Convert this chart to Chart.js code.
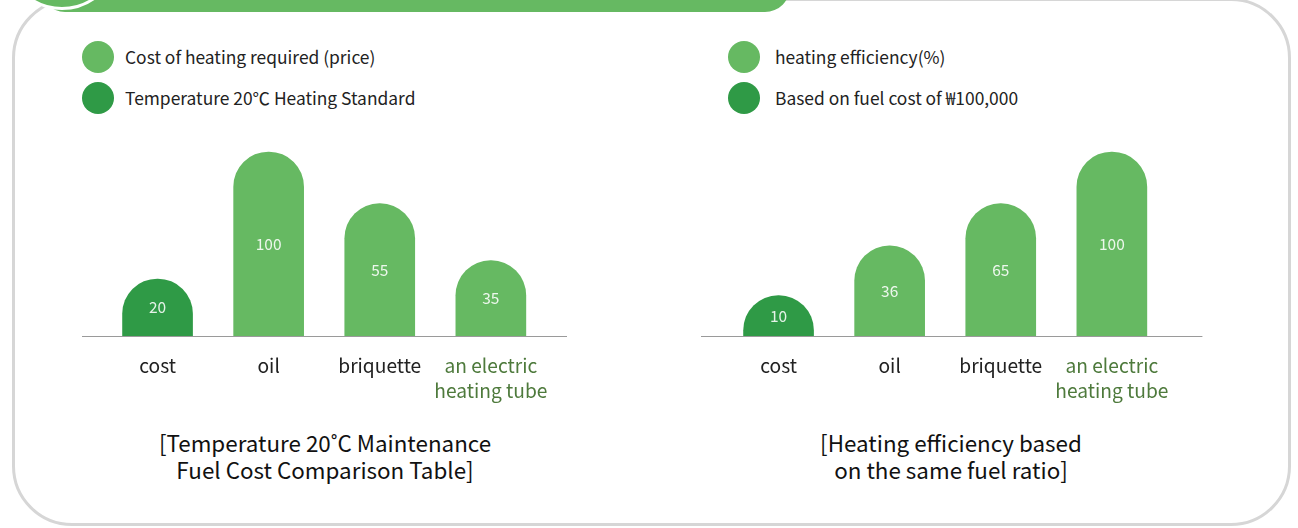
<!DOCTYPE html>
<html>
<head>
<meta charset="utf-8">
<script src="https://cdn.jsdelivr.net/npm/chart.js@4/dist/chart.umd.min.js"></script>
<style>
  html, body { margin: 0; padding: 0; background: #fff; }
  body { width: 1298px; height: 528px; position: relative; overflow: hidden; font-family: "Noto Sans CJK KR", "Noto Sans", sans-serif; }
  .frame { position: absolute; left: 12px; top: -2px; width: 1279px; height: 528px; border: 3px solid #d6d6d6; border-radius: 60px; box-sizing: border-box; }
  .pill { position: absolute; left: 40px; top: -38px; width: 750px; height: 50px; border-radius: 25px; background: #66b962; }
  .dot { position: absolute; left: 5px; top: -104px; width: 108px; height: 108px; border-radius: 50%; background: #66b962; border: 3px solid #fff; }
  .legend { position: absolute; font-size: 17.4px; color: #222; }
  .legend .item { position: absolute; white-space: nowrap; height: 32px; line-height: 32px; }
  .legend .sw { position: absolute; left: 0; top: 0; width: 32px; height: 32px; border-radius: 50%; }
  .legend .tx { position: absolute; top: 0; }
  .title { position: absolute; width: 500px; text-align: center; font-size: 22.4px; line-height: 27px; color: #111; }
  canvas { position: absolute; }
</style>
</head>
<body>
<div class="frame"></div>
<div class="pill"></div>
<div class="dot"></div>

<div class="legend" id="legL" style="left:82px; top:41px;"></div>
<div class="legend" id="legR" style="left:728px; top:41px;"></div>

<div class="title" style="left:75px; top:429px;">[Temperature 20˚C Maintenance<br>Fuel Cost Comparison Table]</div>
<div class="title" style="left:701px; top:429px;">[Heating efficiency based<br>on the same fuel ratio]</div>

<div style="position:absolute; left:62px; top:130px; width:525px; height:290px;"><canvas id="c1" width="525" height="290"></canvas></div>
<div style="position:absolute; left:680px; top:130px; width:540px; height:290px;"><canvas id="c2" width="540" height="290"></canvas></div>

<script>
// ---- data ----
const categories = ["cost", "oil", "briquette", ["an electric", "heating tube"]];

// Chart 1: Temperature 20°C maintenance fuel cost comparison
const costBarHeights = [31, 100, 72, 41];      // visual bar heights (tallest = 100)
const costValueLabels = ["20", "100", "55", "35"];
const costLegend = ["Cost of heating required (price)", "Temperature 20\u2103 Heating Standard"];

// Chart 2: Heating efficiency based on the same fuel ratio
const effBarHeights = [22, 49, 72, 100];
const effValueLabels = ["10", "36", "65", "100"];
const effLegend = ["heating efficiency(%)", "Based on fuel cost of \u20a9100,000"];

const LIGHT = "#66b962";
const DARK = "#2f9a46";
const barColors = [DARK, LIGHT, LIGHT, LIGHT];

// ---- legends (HTML) ----
function buildLegend(id, texts, textLeft) {
  const el = document.getElementById(id);
  const cols = [LIGHT, DARK];
  texts.forEach((t, i) => {
    const it = document.createElement("div");
    it.className = "item";
    it.style.top = (i * 41) + "px";
    it.innerHTML = '<div class="sw" style="background:' + cols[i] + '"></div><div class="tx" style="left:' + textLeft + 'px"></div>';
    it.querySelector(".tx").textContent = t;
    el.appendChild(it);
  });
}
buildLegend("legL", costLegend, 43);
buildLegend("legR", effLegend, 47);

// ---- plugins ----
const axisLinePlugin = {
  id: "axisLine",
  beforeDatasetsDraw(chart, args, opts) {
    const { ctx, chartArea, scales } = chart;
    const y = Math.round(scales.y.getPixelForValue(0)) + 0.5;
    ctx.save();
    ctx.strokeStyle = "#9a9a9a";
    ctx.lineWidth = 1.2;
    ctx.beginPath();
    ctx.moveTo(chartArea.left - opts.extLeft, y);
    ctx.lineTo(chartArea.right + opts.extRight, y);
    ctx.stroke();
    ctx.restore();
  }
};
const valueLabelPlugin = {
  id: "valueLabels",
  afterDatasetsDraw(chart, args, opts) {
    const { ctx, scales } = chart;
    const y0 = scales.y.getPixelForValue(0);
    const meta = chart.getDatasetMeta(0);
    ctx.save();
    ctx.font = "15.5px 'Noto Sans CJK KR', 'Noto Sans', sans-serif";
    ctx.fillStyle = "rgba(255,255,255,0.88)";
    ctx.textAlign = "center";
    ctx.textBaseline = "middle";
    meta.data.forEach((bar, i) => {
      ctx.fillText(opts.labels[i], bar.x, (bar.y + y0) / 2);
    });
    ctx.restore();
  }
};

function makeChart(id, heights, labels, pad, ext) {
  return new Chart(document.getElementById(id), {
    type: "bar",
    data: {
      labels: categories,
      datasets: [{
        data: heights,
        backgroundColor: barColors,
        borderWidth: 0,
        borderRadius: 35,
        borderSkipped: "start",
        barThickness: 70,
        base: -60,
        clip: { left: false, top: 4, right: false, bottom: 0 }
      }]
    },
    options: {
      responsive: false,
      animation: false,
      layout: { padding: pad },
      plugins: {
        legend: { display: false },
        tooltip: { enabled: false },
        axisLine: { extLeft: ext[0], extRight: ext[1] },
        valueLabels: { labels: labels }
      },
      scales: {
        x: {
          offset: true,
          grid: { display: false, drawTicks: false, tickLength: 0 },
          border: { display: false },
          ticks: {
            padding: 17,
            maxRotation: 0,
            autoSkip: false,
            font: { family: "'Noto Sans CJK KR', 'Noto Sans', sans-serif", size: 19.2, lineHeight: 1.3 },
            color: (c) => c.index === 3 ? "#4e7a3c" : "#222"
          }
        },
        y: {
          display: false,
          min: 0,
          max: 100
        }
      }
    },
    plugins: [axisLinePlugin, valueLabelPlugin]
  });
}

makeChart("c1", costBarHeights, costValueLabels, { top: 22, left: 40, right: 40.6, bottom: 0 }, [20, 20.6]);
makeChart("c2", effBarHeights, effValueLabels, { top: 22, left: 43, right: 52.6, bottom: 0 }, [22, 35]);
</script>
</body>
</html>
